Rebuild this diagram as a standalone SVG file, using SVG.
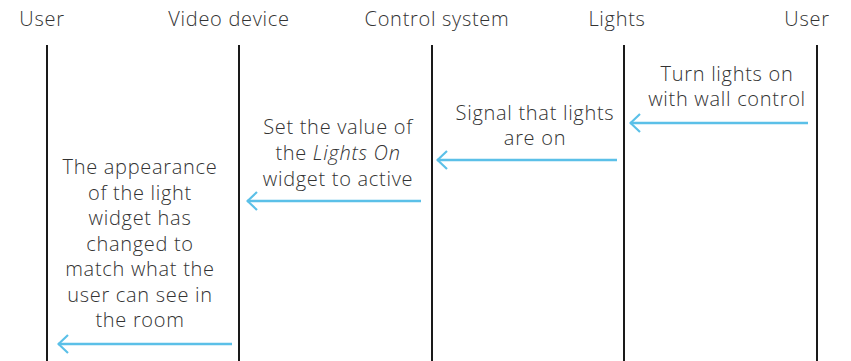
<svg xmlns="http://www.w3.org/2000/svg" width="851" height="361" viewBox="0 0 851 361">
<defs>
<marker id="ah" viewBox="0 0 12 20" refX="1" refY="10" markerWidth="12" markerHeight="20" markerUnits="userSpaceOnUse" orient="auto">
<path d="M11,1 L1.5,10 L11,19" fill="none" stroke="#5bc0e8" stroke-width="2.2"/>
</marker>
</defs>
<style>
text{font-family:"Open Sans","Liberation Sans",sans-serif;font-weight:300;font-size:20px;letter-spacing:0.7px;fill:#333;text-anchor:middle}
.life{stroke:#1a1a1a;stroke-width:2}
.msg{stroke:#5bc0e8;stroke-width:2.5;fill:none;marker-start:url(#ah)}
</style>
<rect width="851" height="361" fill="#fff"/>
<g id="user-left"><text x="42" y="26">User</text><line class="life" x1="47" y1="45" x2="47" y2="361"/></g>
<g id="video-device"><text x="229" y="26">Video device</text><line class="life" x1="239" y1="45" x2="239" y2="361"/></g>
<g id="control-system"><text x="437" y="26">Control system</text><line class="life" x1="432" y1="45" x2="432" y2="361"/></g>
<g id="lights"><text x="617" y="26">Lights</text><line class="life" x1="624" y1="45" x2="624" y2="361"/></g>
<g id="user-right"><text x="807" y="26">User</text><line class="life" x1="817" y1="45" x2="817" y2="361"/></g>
<g id="connectors">
<line class="msg" x1="630" y1="123" x2="808" y2="123"/>
<line class="msg" x1="437" y1="160" x2="617" y2="160"/>
<line class="msg" x1="247" y1="201" x2="421" y2="201"/>
<line class="msg" x1="58" y1="344" x2="232" y2="344"/>
</g>
<g id="labels">
<text x="727" y="81">Turn lights on</text>
<text x="727" y="106">with wall control</text>
<text x="535" y="120">Signal that lights</text>
<text x="535" y="145">are on</text>
<text x="338" y="134">Set the value of</text>
<text x="338" y="160">the <tspan font-style="italic">Lights On</tspan></text>
<text x="338" y="186">widget to active</text>
<text x="140" y="174">The appearance</text>
<text x="140" y="199.5">of the light</text>
<text x="140" y="225">widget has</text>
<text x="140" y="250.5">changed to</text>
<text x="140" y="276">match what the</text>
<text x="140" y="301.5">user can see in</text>
<text x="140" y="327">the room</text>
</g>
</svg>
